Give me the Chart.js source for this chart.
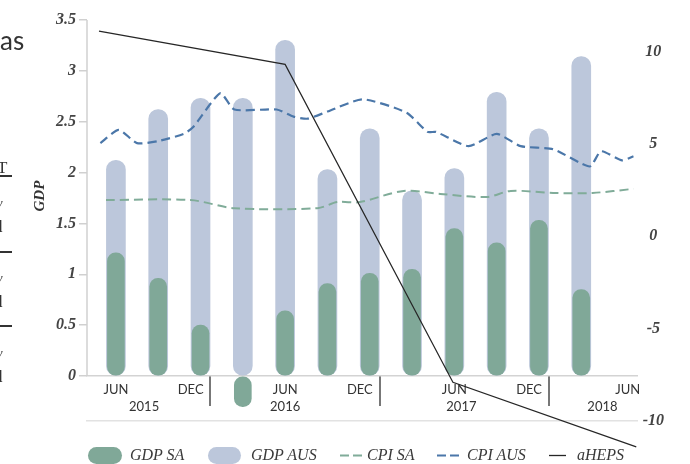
<!DOCTYPE html>
<html>
<head>
<meta charset="utf-8">
<script src="https://cdn.jsdelivr.net/npm/chart.js@4.4.1/dist/chart.umd.min.js"></script>
<style>
  html, body { margin: 0; padding: 0; background: #fff; }
  #wrap { position: relative; width: 690px; height: 464px; overflow: hidden; }
  #chart { position: absolute; left: 0; top: 0; }
  .frag { position: absolute; color: #333; white-space: nowrap; line-height: 1; }
  .rule { position: absolute; left: 0; width: 12px; height: 1.5px; background: #333; }
  .sw { position: absolute; }
  .lt { position: absolute; top: 0; line-height: 18px; font: italic 16px "Liberation Serif", serif; color: #3a3a3a; white-space: nowrap; }
  #legend { position: absolute; left: 0; top: 446px; width: 690px; height: 18px; }
</style>
</head>
<body>
<div id="wrap">
  <canvas id="chart" width="690" height="464"></canvas>

  <!-- bits of the neighbouring panel that got cropped in -->
  <div class="frag" style="left:0;top:24px;font:26px Lato,sans-serif;">as</div>
  <div class="frag" style="left:-3px;top:158px;font:17px 'Liberation Serif',serif;">T</div>
  <div class="rule" style="top:175px"></div>
  <div class="frag" style="left:-6px;top:195px;font:italic 13px 'Liberation Serif',serif;">w</div>
  <div class="frag" style="left:-6px;top:217px;font:17px 'Liberation Serif',serif;">d</div>
  <div class="rule" style="top:251px"></div>
  <div class="frag" style="left:-6px;top:270px;font:italic 13px 'Liberation Serif',serif;">w</div>
  <div class="frag" style="left:-6px;top:292px;font:17px 'Liberation Serif',serif;">d</div>
  <div class="rule" style="top:325px"></div>
  <div class="frag" style="left:-6px;top:345px;font:italic 13px 'Liberation Serif',serif;">w</div>
  <div class="frag" style="left:-6px;top:367px;font:17px 'Liberation Serif',serif;">d</div>

  <div id="legend"></div>
</div>

<script>
// x is months counted from Jun 2015
const quarters = [0, 3, 6, 9, 12, 15, 18, 21, 24, 27, 30, 33];
const gdpSA  = [1.21, 0.96, 0.50, -0.30, 0.64, 0.91, 1.01, 1.05, 1.45, 1.31, 1.53, 0.85];
const gdpAUS = [2.12, 2.62, 2.73, 2.73, 3.30, 2.03, 2.43, 1.82, 2.04, 2.79, 2.43, 3.14];

const cpiSAMonths = [-0.7, 5.3, 8.4, 14.3, 15.7, 17.3, 20.4, 23.0, 26.3, 28.0, 31.0, 33.8, 36.7];
const cpiSA       = [1.73, 1.73, 1.65, 1.65, 1.71, 1.71, 1.82, 1.79, 1.76, 1.82, 1.80, 1.80, 1.84];

const cpiAUSMonths = [-1.1, 0.2, 1.5, 3.0, 4.8, 5.5, 7.4, 8.4, 11.4, 12.6, 13.6, 15.0, 17.5,
                      20.6, 22.1, 22.7, 25.0, 27.0, 28.7, 31.0, 33.6, 34.4, 35.9, 36.7];
const cpiAUS       = [2.29, 2.42, 2.29, 2.31, 2.38, 2.45, 2.78, 2.62, 2.62, 2.55, 2.53, 2.60, 2.72,
                      2.59, 2.40, 2.40, 2.26, 2.38, 2.26, 2.23, 2.06, 2.21, 2.12, 2.16];

const hepsMonths = [-1.2, 12, 23.9, 36.9];
const aHEPS      = [11.1, 9.3, -7.9, -11.4];

const seriesNames = ['GDP SA', 'GDP AUS', 'CPI SA', 'CPI AUS', 'aHEPS'];

const monthTicks  = [0, 5.3, 12, 17.3, 24, 29.3, 36.3];
const monthLabels = ['JUN', 'DEC', 'JUN', 'DEC', 'JUN', 'DEC', 'JUN'];
const yearTicks   = [2, 12, 24.5, 34.5];
const yearLabels  = ['2015', '2016', '2017', '2018'];
const yearBreaks  = [6.7, 18.7, 30.7];
const gdpTicks    = [0, 0.5, 1, 1.5, 2, 2.5, 3, 3.5];
const hepsTicks   = [10, 5, 0, -5, -10];

const green = '#80a898', blueGrey = '#bcc7db', cpiGreen = '#80ac99', cpiBlue = '#4b77a9', ink = '#262626';
const xMin = -2.05, xMax = 37;
const serif = { family: 'Liberation Serif', style: 'italic', weight: 'bold', size: 16 };
const sans = { family: 'Lato', size: 13 };

const pts = (xs, ys) => xs.map((x, i) => ({ x: x, y: ys[i] }));
const fixTicks = vals => scale => { scale.ticks = vals.map(v => ({ value: v })); };

// y axis line stops at zero, like the original
const leftAxisLine = {
  id: 'leftAxisLine',
  beforeDatasetsDraw(chart) {
    const { ctx, chartArea, scales } = chart;
    ctx.save();
    ctx.strokeStyle = '#d0d0d0';
    ctx.lineWidth = 1.5;
    ctx.beginPath();
    ctx.moveTo(chartArea.left, scales.y.top);
    ctx.lineTo(chartArea.left, scales.y.getPixelForValue(0));
    ctx.stroke();
    ctx.restore();
  }
};

new Chart(document.getElementById('chart'), {
  type: 'bar',
  data: {
    datasets: [
      { label: seriesNames[0], data: pts(quarters, gdpSA), backgroundColor: green,
        barThickness: 17, borderRadius: 9, borderSkipped: false, grouped: false, order: 3 },
      { label: seriesNames[1], data: pts(quarters, gdpAUS), backgroundColor: blueGrey,
        barThickness: 19, borderRadius: 10, borderSkipped: false, grouped: false, order: 4 },
      { type: 'line', label: seriesNames[2], data: pts(cpiSAMonths, cpiSA), borderColor: cpiGreen,
        borderWidth: 2, borderDash: [9, 5], pointRadius: 0, tension: 0.3, order: 2 },
      { type: 'line', label: seriesNames[3], data: pts(cpiAUSMonths, cpiAUS), borderColor: cpiBlue,
        borderWidth: 2.2, borderDash: [9, 5], pointRadius: 0, tension: 0.2, order: 1 },
      { type: 'line', label: seriesNames[4], data: pts(hepsMonths, aHEPS), yAxisID: 'y2', borderColor: ink,
        borderWidth: 1.2, pointRadius: 0, tension: 0, clip: false, order: 0 }
    ]
  },
  options: {
    responsive: false,
    animation: false,
    layout: { padding: { left: 27, right: 21, top: 20, bottom: 43 } },
    plugins: { legend: { display: false }, tooltip: { enabled: false } },
    scales: {
      x: {
        type: 'linear', min: xMin, max: xMax, offset: false, position: { y: 0 },
        grid: { display: false, drawTicks: false, offset: false },
        border: { color: '#d3d3d3', width: 1.5 },
        afterBuildTicks: fixTicks(monthTicks),
        ticks: { autoSkip: false, maxRotation: 0, padding: 6, color: '#333', font: sans,
                 callback: (v, i) => monthLabels[i] }
      },
      xYear: {
        type: 'linear', min: xMin, max: xMax, offset: false, position: { y: 0 },
        grid: { display: false, drawTicks: false, offset: false }, border: { display: false },
        afterBuildTicks: fixTicks(yearTicks),
        ticks: { autoSkip: false, maxRotation: 0, padding: 23, color: '#333', font: sans,
                 callback: (v, i) => yearLabels[i] }
      },
      xBreak: {
        type: 'linear', min: xMin, max: xMax, offset: false, position: { y: 0 },
        border: { display: false },
        grid: { display: true, offset: false, drawOnChartArea: false, drawTicks: true, tickLength: 30,
                color: '#777', lineWidth: 2 },
        afterBuildTicks: fixTicks(yearBreaks),
        ticks: { display: false }
      },
      xBase: {
        type: 'linear', position: 'bottom',
        grid: { display: false, drawTicks: false, offset: false }, ticks: { display: false },
        border: { color: '#e2e2e2', width: 1.5 }
      },
      y: {
        min: -0.442, max: 3.5,
        afterBuildTicks: fixTicks(gdpTicks),
        grid: { drawOnChartArea: false, drawTicks: true, tickLength: 8, color: '#d0d0d0', lineWidth: 1.5 },
        border: { display: false },
        ticks: { padding: 3, color: '#444', font: serif, callback: v => String(v) },
        title: { display: true, text: ' '.repeat(13) + 'GDP', color: '#333', padding: { top: 4, bottom: 4 },
                 font: { family: 'Liberation Serif', style: 'italic', weight: 'bold', size: 15 } }
      },
      y2: {
        position: 'right', min: -10, max: 11.7,
        afterBuildTicks: fixTicks(hepsTicks),
        grid: { display: false, drawTicks: false },
        border: { display: false },
        ticks: { padding: 5, crossAlign: 'center', color: '#444', font: serif, callback: v => String(v) }
      }
    }
  },
  plugins: [leftAxisLine]
});

// legend drawn as html swatches under the plot
const legendX = [[88, 130], [208, 251], [340, 367], [437, 467], [549, 577]];
const legend = document.getElementById('legend');
const swatches = [
  '<div style="width:34px;height:17px;border-radius:9px;background:' + green + '"></div>',
  '<div style="width:33px;height:17px;border-radius:9px;background:' + blueGrey + '"></div>',
  '<svg width="22" height="17"><line x1="0" y1="8.5" x2="22" y2="8.5" stroke="' + cpiGreen + '" stroke-width="2" stroke-dasharray="9 4"/></svg>',
  '<svg width="22" height="17"><line x1="0" y1="8.5" x2="22" y2="8.5" stroke="' + cpiBlue + '" stroke-width="2.2" stroke-dasharray="9 4"/></svg>',
  '<svg width="17" height="17"><line x1="0" y1="8.5" x2="17" y2="8.5" stroke="' + ink + '" stroke-width="1.3"/></svg>'
];
seriesNames.forEach((name, i) => {
  legend.innerHTML += '<div class="sw" style="left:' + legendX[i][0] + 'px;top:1px">' + swatches[i] + '</div>' +
                      '<div class="lt" style="left:' + legendX[i][1] + 'px">' + name + '</div>';
});
</script>
</body>
</html>
